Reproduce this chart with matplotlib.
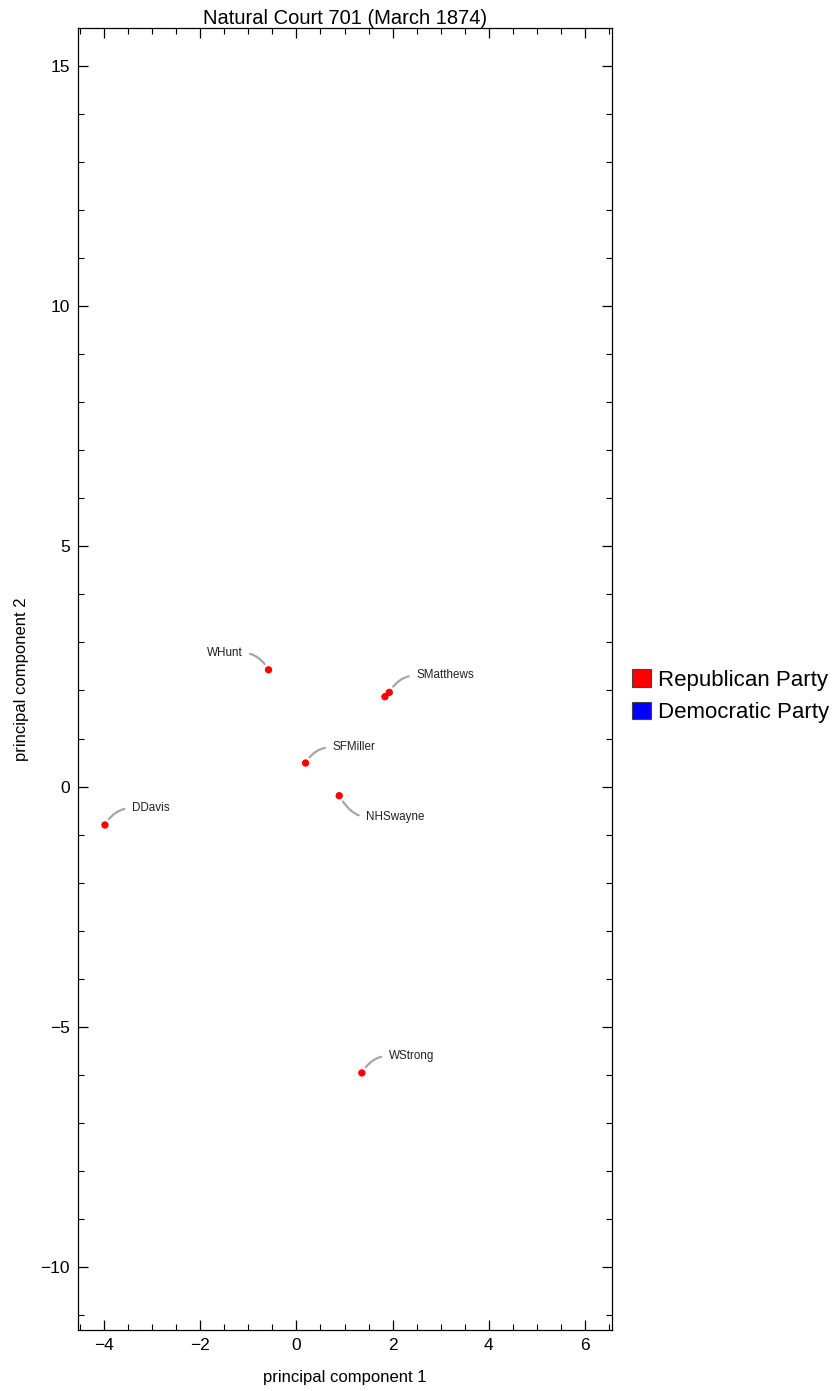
import matplotlib
matplotlib.use('Agg')
import matplotlib.pyplot as plt
from matplotlib.patches import Patch
from matplotlib.ticker import MultipleLocator

plt.rcParams['font.family'] = ['Liberation Sans', 'DejaVu Sans']

# justices (all Republican in this court)
names = ['WHunt', 'SMatthews', '', 'SFMiller', 'NHSwayne', 'DDavis', 'WStrong']
pc1 = [-0.58, 1.93, 1.84, 0.19, 0.89, -3.98, 1.36]
pc2 = [2.43, 1.96, 1.87, 0.49, -0.19, -0.80, -5.96]
party = ['R', 'R', 'R', 'R', 'R', 'R', 'R']
party_colors = {'R': '#ff0000', 'D': '#0000ff'}
party_names = {'R': 'Republican Party', 'D': 'Democratic Party'}

# label placement (pixels offset from the point)
label_dx = [-26, 27, 0, 27, 27, 27, 27]
label_dy = [17, 17, 0, 16, -21, 17, 17]

fig = plt.figure(figsize=(8.38, 13.91), dpi=100)
ax = fig.add_axes([0.0931, 0.0439, 0.6372, 0.936])

ax.scatter(pc1, pc2, s=28, c=[party_colors[p] for p in party], zorder=3, linewidths=0)

px = 0.72  # points per pixel at dpi 100
for name, x, y, dx, dy in zip(names, pc1, pc2, label_dx, label_dy):
    if not name:
        continue
    ha = 'left' if dx > 0 else 'right'
    angle_b = 60 if dx * dy > 0 else -60
    ax.annotate(name, xy=(x, y), xytext=(dx * px, dy * px), textcoords='offset points',
                ha=ha, va='center', fontsize=8.4, color='#222222',
                arrowprops=dict(arrowstyle='-', color='#a6a6a6', lw=1.6,
                                relpos=(0 if ha == 'left' else 1, 0.5),
                                shrinkA=3.5, shrinkB=5,
                                connectionstyle='angle3,angleA=0,angleB=%d' % angle_b))

ax.set_xlim(-4.54, 6.56)
ax.set_ylim(-11.31, 15.79)
ax.xaxis.set_major_locator(MultipleLocator(2))
ax.xaxis.set_minor_locator(MultipleLocator(0.5))
ax.yaxis.set_major_locator(MultipleLocator(5))
ax.yaxis.set_minor_locator(MultipleLocator(1))
ax.tick_params(which='both', direction='in', top=True, right=True, labelsize=12.5, pad=6)
ax.tick_params(which='major', length=7, width=0.9)
ax.tick_params(which='minor', length=4, width=0.8)
for s in ax.spines.values():
    s.set_linewidth(0.9)

ax.set_title('Natural Court 701 (March 1874)', fontsize=14.5, pad=2)
ax.set_xlabel('principal component 1', fontsize=12, labelpad=12)
ax.set_ylabel('principal component 2', fontsize=12, labelpad=8)

handles = [Patch(facecolor=party_colors[k], edgecolor='#444444', linewidth=0.8, label=party_names[k])
           for k in ['R', 'D']]
fig.legend(handles=handles, loc='center left', bbox_to_anchor=(0.744, 0.4996), frameon=False,
           fontsize=16, handlelength=0.85, handleheight=0.85, handletextpad=0.3, labelspacing=0.5,
           borderaxespad=0)

fig.savefig('out.png', dpi=100)
